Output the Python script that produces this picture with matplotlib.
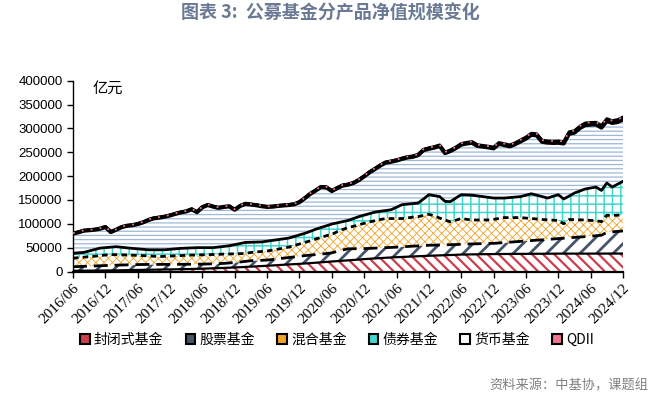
import numpy as np
import matplotlib
matplotlib.use('Agg')
import matplotlib.pyplot as plt
from matplotlib.patches import Patch
import pandas as pd

plt.rcParams['font.family'] = ['Noto Sans CJK SC', 'DejaVu Sans']

# ---------------- data (亿元, monthly 2016/06 - 2024/12) ----------------
months = pd.period_range('2016-06', '2024-12', freq='M').strftime('%Y/%m').tolist()
tick_labels = ['2016/06', '2016/12', '2017/06', '2017/12', '2018/06', '2018/12',
               '2019/06', '2019/12', '2020/06', '2020/12', '2021/06', '2021/12',
               '2022/06', '2022/12', '2023/06', '2023/12', '2024/06', '2024/12']
series_names = ['封闭式基金', '股票基金', '混合基金', '债券基金', '货币基金', 'QDII']

closed_end = [1500, 1600, 1700, 1800, 1900, 2000, 2100,
              2200, 2400, 2600, 2800, 3000, 3200,
              3400, 3600, 3800, 4000, 4200, 4400,
              4600, 4800, 5000, 5300, 5600, 5900,
              6300, 6700, 7100, 7500, 8000, 8500,
              9000, 9600, 10200, 10800, 11400, 12000,
              12700, 13400, 14100, 14800, 15400, 16000,
              16800, 17600, 18400, 19200, 20100, 21000,
              21800, 22600, 23400, 24200, 25000, 26000,
              26700, 27400, 28100, 28800, 29400, 30000,
              30500, 31000, 31500, 32000, 32500, 33000,
              33400, 33800, 34200, 34600, 35000, 35500,
              35700, 35900, 36100, 36300, 36400, 36500,
              36600, 36700, 36800, 36900, 37000, 37000,
              37100, 37200, 37200, 37300, 37400, 37500,
              37500, 37500, 37500, 37500, 37500, 37500,
              37500, 37500, 37600, 37600, 37600, 37700]

stock = [8500, 8800, 9100, 9400, 9700, 10000, 10400,
         10600, 10800, 11000, 11100, 11200, 11300,
         11300, 11200, 11000, 10900, 10800, 10600,
         10500, 10300, 10200, 10000, 9800, 9600,
         9500, 9400, 9400, 9500, 9900, 10500,
         11000, 11600, 12400, 12300, 12100, 12000,
         12500, 13000, 13800, 14500, 15200, 16000,
         16500, 16800, 17000, 17300, 17600, 18000,
         20500, 22500, 24200, 23500, 22800, 22000,
         21800, 21600, 21400, 21200, 21100, 21000,
         21200, 21400, 21600, 21700, 21900, 22000,
         21900, 21800, 21700, 21600, 21500, 21500,
         21700, 21900, 22000, 22200, 22400, 22500,
         23200, 23900, 24700, 25400, 26200, 27000,
         27700, 28500, 29200, 30000, 30700, 31500,
         32300, 33200, 34000, 34800, 35600, 36500,
         37500, 38500, 44500, 45500, 46500, 47300]

mixed = [18000, 18600, 19200, 19800, 20400, 21200, 22000,
         22700, 22000, 21300, 20600, 20000, 19300,
         18600, 17900, 17200, 16300, 16800, 17300,
         17800, 18300, 18800, 19200, 19300, 19400,
         19500, 19500, 19500, 19500, 18800, 18100,
         17400, 16800, 17300, 17900, 18500, 19000,
         19600, 20300, 21000, 21700, 23700, 25700,
         27700, 30000, 32500, 35000, 37300, 39000,
         41000, 43000, 44400, 47000, 50000, 53000,
         55500, 57500, 59500, 61000, 60500, 60000,
         59300, 60000, 60700, 61300, 63000, 65000,
         61000, 56400, 52000, 47800, 51000, 54000,
         52000, 50200, 49900, 49600, 49300, 50300,
         51300, 52400, 51500, 50700, 49800, 48000,
         46200, 44400, 42600, 41000, 39500, 38000,
         30200, 38300, 37200, 36000, 34900, 33000,
         31500, 28500, 35900, 34500, 34000, 33500]

bond = [10000, 10000, 10000, 12000, 14000, 15800, 15500,
        15500, 16800, 15900, 15100, 14300, 13700,
        13200, 12800, 13500, 14300, 13700, 14200,
        14600, 15100, 15000, 15000, 15300, 15100,
        14700, 14400, 15300, 16100, 17300, 19200,
        21200, 23000, 21400, 20700, 20000, 20600,
        20400, 20100, 19500, 19000, 19000, 19000,
        19000, 19800, 20600, 20700, 20800, 21500,
        18700, 16400, 15000, 16300, 17200, 17200,
        17300, 18000, 17200, 16800, 18500, 23700,
        29000, 28800, 28500, 28500, 34600, 41000,
        42700, 45000, 39100, 42500, 46500, 50000,
        51100, 52000, 50500, 48900, 47400, 44700,
        42900, 41000, 42000, 43000, 44000, 48000,
        52000, 49900, 48000, 45700, 49900, 54000,
        52000, 49000, 55800, 60400, 65000, 68000,
        70500, 65500, 67500, 59400, 64900, 70500]

money = [41500, 43200, 45600, 43600, 41600, 40600, 43300,
         31700, 35500, 42200, 46200, 48500, 52000,
         56500, 62500, 66000, 67500, 69400, 71000,
         73400, 75400, 76900, 80900, 74400, 84900,
         89400, 85900, 82100, 82800, 82500, 73200,
         78800, 80900, 79100, 77200, 74900, 71800,
         70700, 70600, 70000, 69400, 67500, 68600,
         73700, 78500, 81200, 85000, 80400, 69200,
         72700, 75600, 75000, 74500, 76400, 81200,
         86500, 90300, 96000, 100400, 100600, 97900,
         96000, 97800, 98100, 100400, 102300, 96300,
         100700, 106200, 101200, 106100, 104600, 105000,
         107900, 109900, 104800, 104800, 104700, 104200,
         113600, 111000, 107400, 110800, 115700, 118600,
         123500, 125400, 114800, 116200, 112100, 109000,
         116400, 130800, 126700, 131900, 134000, 132900,
         131300, 131700, 130100, 134500, 130400, 129800]

qdii = [800, 800, 850, 850, 900, 900, 900, 950, 950, 1000, 1000, 1000,
        1000, 1000, 1000, 1000, 1000, 1050, 1050, 1100, 1100, 1100, 1100, 1100,
        1100, 1100, 1100, 1100, 1050, 1000, 1000, 1050, 1100, 1100, 1100, 1100,
        1100, 1100, 1100, 1150, 1150, 1200, 1200, 1250, 1250, 1300, 1300, 1300,
        1300, 1350, 1400, 1450, 1500, 1550, 1600, 1650, 1700, 1750, 1800, 1850,
        1900, 1950, 2000, 2050, 2100, 2150, 2200, 2250, 2300, 2300, 2350, 2400,
        2500, 2550, 2600, 2650, 2700, 2750, 2800, 2900, 3000, 3100, 3200, 3300,
        3400, 3500, 3600, 3700, 3800, 3900, 4000, 4100, 4200, 4300, 4400, 4500,
        4600, 4700, 4800, 4900, 5000, 5100, 5200]

# ---------------- styles ----------------
fill_colors = ['#cc3d4e', '#44546a', '#f2a428', '#3fd8d0', '#9db8d8', '#f07590']
hatches = ['\\\\\\', '//', 'xxxx', '++', '----', '....']
hatch_lw = [1.6, 2.0, 0.6, 1.1, 0.9, 1.0]

fig = plt.figure(figsize=(6.67, 3.99), dpi=100)
ax = fig.add_axes([73 / 667, (399 - 271.5) / 399, 550 / 667, (271.5 - 80.7) / 399])

x = np.arange(len(months))
layers = np.array([closed_end, stock, mixed, bond, money, qdii], dtype=float)
top = np.cumsum(layers, axis=0)
bottom = np.vstack([np.zeros(len(x)), top[:-1]])

for k in range(len(layers)):
    with plt.rc_context({'hatch.linewidth': hatch_lw[k]}):
        coll = ax.fill_between(x, bottom[k], top[k], facecolor='white',
                               edgecolor=fill_colors[k], hatch=hatches[k],
                               linewidth=0, zorder=1)
        if hasattr(coll, 'set_hatch_linewidth'):
            coll.set_hatch_linewidth(hatch_lw[k])

# boundary lines
ax.plot(x, top[0], color='black', lw=1.6, zorder=3)
ax.plot(x, top[1], color='black', lw=2.0, ls=(0, (5, 2.5)), zorder=3)
ax.plot(x, top[2], color='black', lw=2.0, ls=(0, (2, 1.5)), zorder=3)
ax.plot(x, top[3], color='black', lw=2.0, zorder=3)
ax.plot(x, top[4], color='black', lw=3.0, zorder=3)
ax.plot(x, top[5], color='black', lw=2.0, zorder=4)
ax.plot(x, top[5], color=fill_colors[5], lw=1.3, ls=(0, (1, 4)), zorder=5)

ax.set_xlim(0, len(x) - 1)
ax.set_ylim(0, 400000)
ax.set_yticks(np.arange(0, 400001, 50000))
ax.set_yticklabels([str(v) for v in range(0, 400001, 50000)],
                   fontfamily='Liberation Sans', fontsize=9.5)
ax.set_xticks(np.arange(0, len(x), 6))
ax.set_xticklabels(tick_labels, rotation=45, ha='right', va='top',
                   rotation_mode='anchor', fontfamily='Liberation Serif', fontsize=11)
ax.tick_params(axis='both', direction='out', length=4, width=1, colors='black')
ax.tick_params(axis='x', pad=3)
for s in ['top', 'right']:
    ax.spines[s].set_visible(False)
ax.spines['left'].set_linewidth(1.0)
ax.spines['bottom'].set_linewidth(1.6)

ax.text(0.036, 0.962, '亿元', transform=ax.transAxes, fontsize=11,
        ha='left', va='center', color='black')

fig.text(0.495, 0.966, '图表 3:  公募基金分产品净值规模变化', ha='center', va='center',
         fontsize=13, fontweight='bold', color='#6a7a94')

handles = [Patch(facecolor=c, edgecolor='black', linewidth=1.5) for c in
           ['#cc3d4e', '#44546a', '#f2a428', '#3fd8d0', 'white', '#f07590']]
fig.legend(handles, series_names, ncol=6, loc='center',
           bbox_to_anchor=(0.505, 1 - 340 / 399), frameon=False, fontsize=10,
           handlelength=0.7, handleheight=0.7, handletextpad=0.3,
           columnspacing=1.6)

fig.text(648 / 667, 1 - 386 / 399, '资料来源：中基协，课题组', ha='right', va='center',
         fontsize=9.5, color='#808080')

fig.savefig('out.png', dpi=100)
